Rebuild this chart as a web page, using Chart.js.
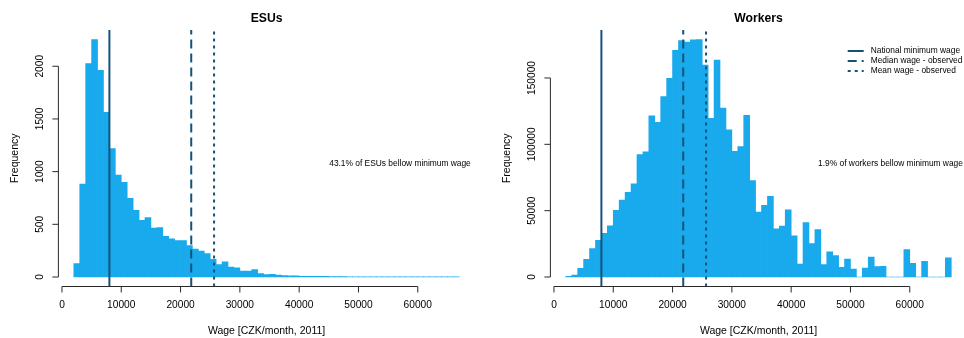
<!DOCTYPE html>
<html>
<head>
<meta charset="utf-8">
<script src="https://cdn.jsdelivr.net/npm/chart.js@4/dist/chart.umd.min.js"></script>
<style>
  html, body { margin: 0; padding: 0; background: #fff; overflow: hidden; width: 964px; height: 338px; }
  #wrap { position: relative; width: 964px; height: 338px; overflow: hidden; }
  canvas { position: absolute; top: 0; }
</style>
</head>
<body>
<div id="wrap">
  <canvas id="esuChart" width="482" height="338" style="left:0"></canvas>
  <canvas id="workerChart" width="490" height="338" style="left:480px"></canvas>
</div>
<script>
// Histogram bins: lower edge of each 1000 CZK wage class
const binStarts = [
  2000, 3000, 4000, 5000, 6000, 7000, 8000, 9000, 10000, 11000,
  12000, 13000, 14000, 15000, 16000, 17000, 18000, 19000, 20000, 21000,
  22000, 23000, 24000, 25000, 26000, 27000, 28000, 29000, 30000, 31000,
  32000, 33000, 34000, 35000, 36000, 37000, 38000, 39000, 40000, 41000,
  42000, 43000, 44000, 45000, 46000, 47000, 48000, 49000, 50000, 51000,
  52000, 53000, 54000, 55000, 56000, 57000, 58000, 59000, 60000, 61000,
  62000, 63000, 64000, 65000, 66000
];
const binWidth = 1000;

// Number of ESUs per wage class
const esuCounts = [
  127, 883, 2026, 2254, 1962, 1562, 1219, 968, 898, 746,
  632, 537, 565, 464, 470, 387, 362, 346, 346, 298,
  264, 245, 222, 168, 117, 143, 95, 86, 57, 57,
  70, 32, 22, 25, 19, 13, 12, 10, 7, 6,
  7, 6, 6, 3, 3, 3, 2, 2, 1, 1,
  2, 2, 2, 2, 2, 1, 1, 2, 2, 1,
  2, 2, 2, 2, 2
];

// Number of workers per wage class
const workerCounts = [
  500, 1500, 6550, 13400, 21400, 27700, 33000, 38600, 50200, 58000,
  63800, 70300, 92300, 94300, 121500, 116500, 135900, 149700, 170900, 178200,
  177000, 178700, 179000, 159800, 119500, 163400, 127300, 110900, 94800, 98300,
  121800, 72600, 48900, 54000, 60800, 36300, 38300, 50700, 31000, 9800,
  41100, 25200, 35800, 9300, 18900, 16100, 7300, 13600, 6000, 0,
  6800, 15100, 7800, 8000, 0, 0, 0, 20700, 10300, 0,
  11800, 0, 0, 0, 14400
];

// Axis ticks
const xTicks = [0, 10000, 20000, 30000, 40000, 50000, 60000];
const esuYTicks = [0, 500, 1000, 1500, 2000];
const workerYTicks = [0, 50000, 100000, 150000];

// Reference wages (CZK/month)
const minimumWage = 8000;
const medianWage = 21800;
const meanWage = 25650;
const refWages = [minimumWage, medianWage, meanWage];
const refNames = ['National minimum wage', 'Median wage - observed', 'Mean wage - observed'];
const refDashes = [[], [9, 5], [3, 4]];

const FONT = '"Liberation Sans", Arial, Helvetica, sans-serif';
const BAR_COLOR = '#18aaec';
const LINE_COLOR = '#14527a';
const AXIS_COLOR = '#2a2a2a';

// R-style 4% padding around the data range
function padRange(lo, hi) {
  const e = (hi - lo) * 0.04;
  return [lo - e, hi + e];
}

function panelPlugin(p) {
  return {
    id: 'panel_' + p.key,
    afterDatasetsDraw(chart) {
      const { ctx, chartArea: a, scales: { x } } = chart;
      ctx.save();
      ctx.strokeStyle = LINE_COLOR;
      ctx.lineWidth = 2;
      ctx.lineCap = 'butt';
      refWages.forEach((w, i) => {
        const px = x.getPixelForValue(w);
        ctx.setLineDash(refDashes[i]);
        ctx.beginPath();
        ctx.moveTo(px, a.bottom);
        ctx.lineTo(px, a.top);
        ctx.stroke();
      });
      ctx.restore();
    },
    afterDraw(chart) {
      const { ctx, chartArea: a, scales: { x, y } } = chart;
      ctx.save();
      ctx.strokeStyle = AXIS_COLOR;
      ctx.lineWidth = 1;
      ctx.fillStyle = '#000';

      // x axis
      const yAxis = a.bottom;
      ctx.beginPath();
      ctx.moveTo(x.getPixelForValue(xTicks[0]), yAxis);
      ctx.lineTo(x.getPixelForValue(xTicks[xTicks.length - 1]), yAxis);
      xTicks.forEach(t => {
        const px = x.getPixelForValue(t);
        ctx.moveTo(px, yAxis);
        ctx.lineTo(px, yAxis + 6);
      });
      ctx.stroke();
      ctx.font = '10.2px ' + FONT;
      ctx.textAlign = 'center';
      ctx.textBaseline = 'middle';
      xTicks.forEach(t => ctx.fillText(String(t), x.getPixelForValue(t), yAxis + 19));

      // y axis
      const xAxis = a.left;
      ctx.beginPath();
      ctx.moveTo(xAxis, y.getPixelForValue(p.yTicks[0]));
      ctx.lineTo(xAxis, y.getPixelForValue(p.yTicks[p.yTicks.length - 1]));
      p.yTicks.forEach(t => {
        const py = y.getPixelForValue(t);
        ctx.moveTo(xAxis, py);
        ctx.lineTo(xAxis - 6, py);
      });
      ctx.stroke();
      p.yTicks.forEach(t => {
        ctx.save();
        ctx.translate(xAxis - 18.5, y.getPixelForValue(t));
        ctx.rotate(-Math.PI / 2);
        ctx.fillText(String(t), 0, 0);
        ctx.restore();
      });

      // axis titles
      const cx = (a.left + a.right) / 2;
      ctx.font = '10.5px ' + FONT;
      ctx.fillText('Wage [CZK/month, 2011]', cx, a.bottom + 45);
      ctx.save();
      ctx.translate(a.left - 43.5, (a.top + a.bottom) / 2);
      ctx.rotate(-Math.PI / 2);
      ctx.fillText('Frequency', 0, 0);
      ctx.restore();

      // main title
      ctx.font = 'bold 12.2px ' + FONT;
      ctx.fillText(p.title, cx, 18.5);

      // share below minimum wage
      ctx.font = '8.4px ' + FONT;
      ctx.fillText(p.note, x.getPixelForValue(p.noteX), y.getPixelForValue(p.noteY));

      // legend
      if (p.legend) {
        const lx = a.right - 119;
        refNames.forEach((name, i) => {
          const ly = a.top + 21 + i * 10;
          ctx.save();
          ctx.strokeStyle = LINE_COLOR;
          ctx.lineWidth = 2;
          ctx.setLineDash(refDashes[i]);
          ctx.beginPath();
          ctx.moveTo(lx, ly);
          ctx.lineTo(lx + 16, ly);
          ctx.stroke();
          ctx.restore();
          ctx.textAlign = 'left';
          ctx.fillText(name, lx + 23, ly);
        });
      }
      ctx.restore();
    }
  };
}

function makeHistogram(canvasId, counts, p) {
  const [xMin, xMax] = padRange(binStarts[0], binStarts[binStarts.length - 1] + binWidth);
  const [yMin, yMax] = padRange(0, Math.max(...counts));
  return new Chart(document.getElementById(canvasId), {
    type: 'bar',
    data: {
      datasets: [{
        data: binStarts.map((b, i) => ({ x: b + binWidth / 2, y: counts[i] })),
        backgroundColor: BAR_COLOR,
        borderWidth: 0,
        barPercentage: 1,
        categoryPercentage: 1
      }]
    },
    options: {
      responsive: false,
      animation: false,
      devicePixelRatio: 1,
      layout: { padding: p.padding },
      plugins: { legend: { display: false }, tooltip: { enabled: false }, title: { display: false } },
      scales: {
        x: { type: 'linear', min: xMin, max: xMax, offset: false, display: false },
        y: { type: 'linear', min: yMin, max: yMax, display: false }
      }
    },
    plugins: [panelPlugin(p)]
  });
}

makeHistogram('esuChart', esuCounts, {
  key: 'esu',
  title: 'ESUs',
  yTicks: esuYTicks,
  note: '43.1% of ESUs bellow minimum wage',
  noteX: 57000,
  noteY: 1072,
  legend: false,
  padding: { left: 58.4, right: 7.3, top: 30, bottom: 51.5 }
});

makeHistogram('workerChart', workerCounts, {
  key: 'workers',
  title: 'Workers',
  yTicks: workerYTicks,
  note: '1.9% of workers bellow minimum wage',
  noteX: 56750,
  noteY: 85350,
  legend: true,
  padding: { left: 70.4, right: 3.3, top: 30, bottom: 51.5 }
});
</script>
</body>
</html>
